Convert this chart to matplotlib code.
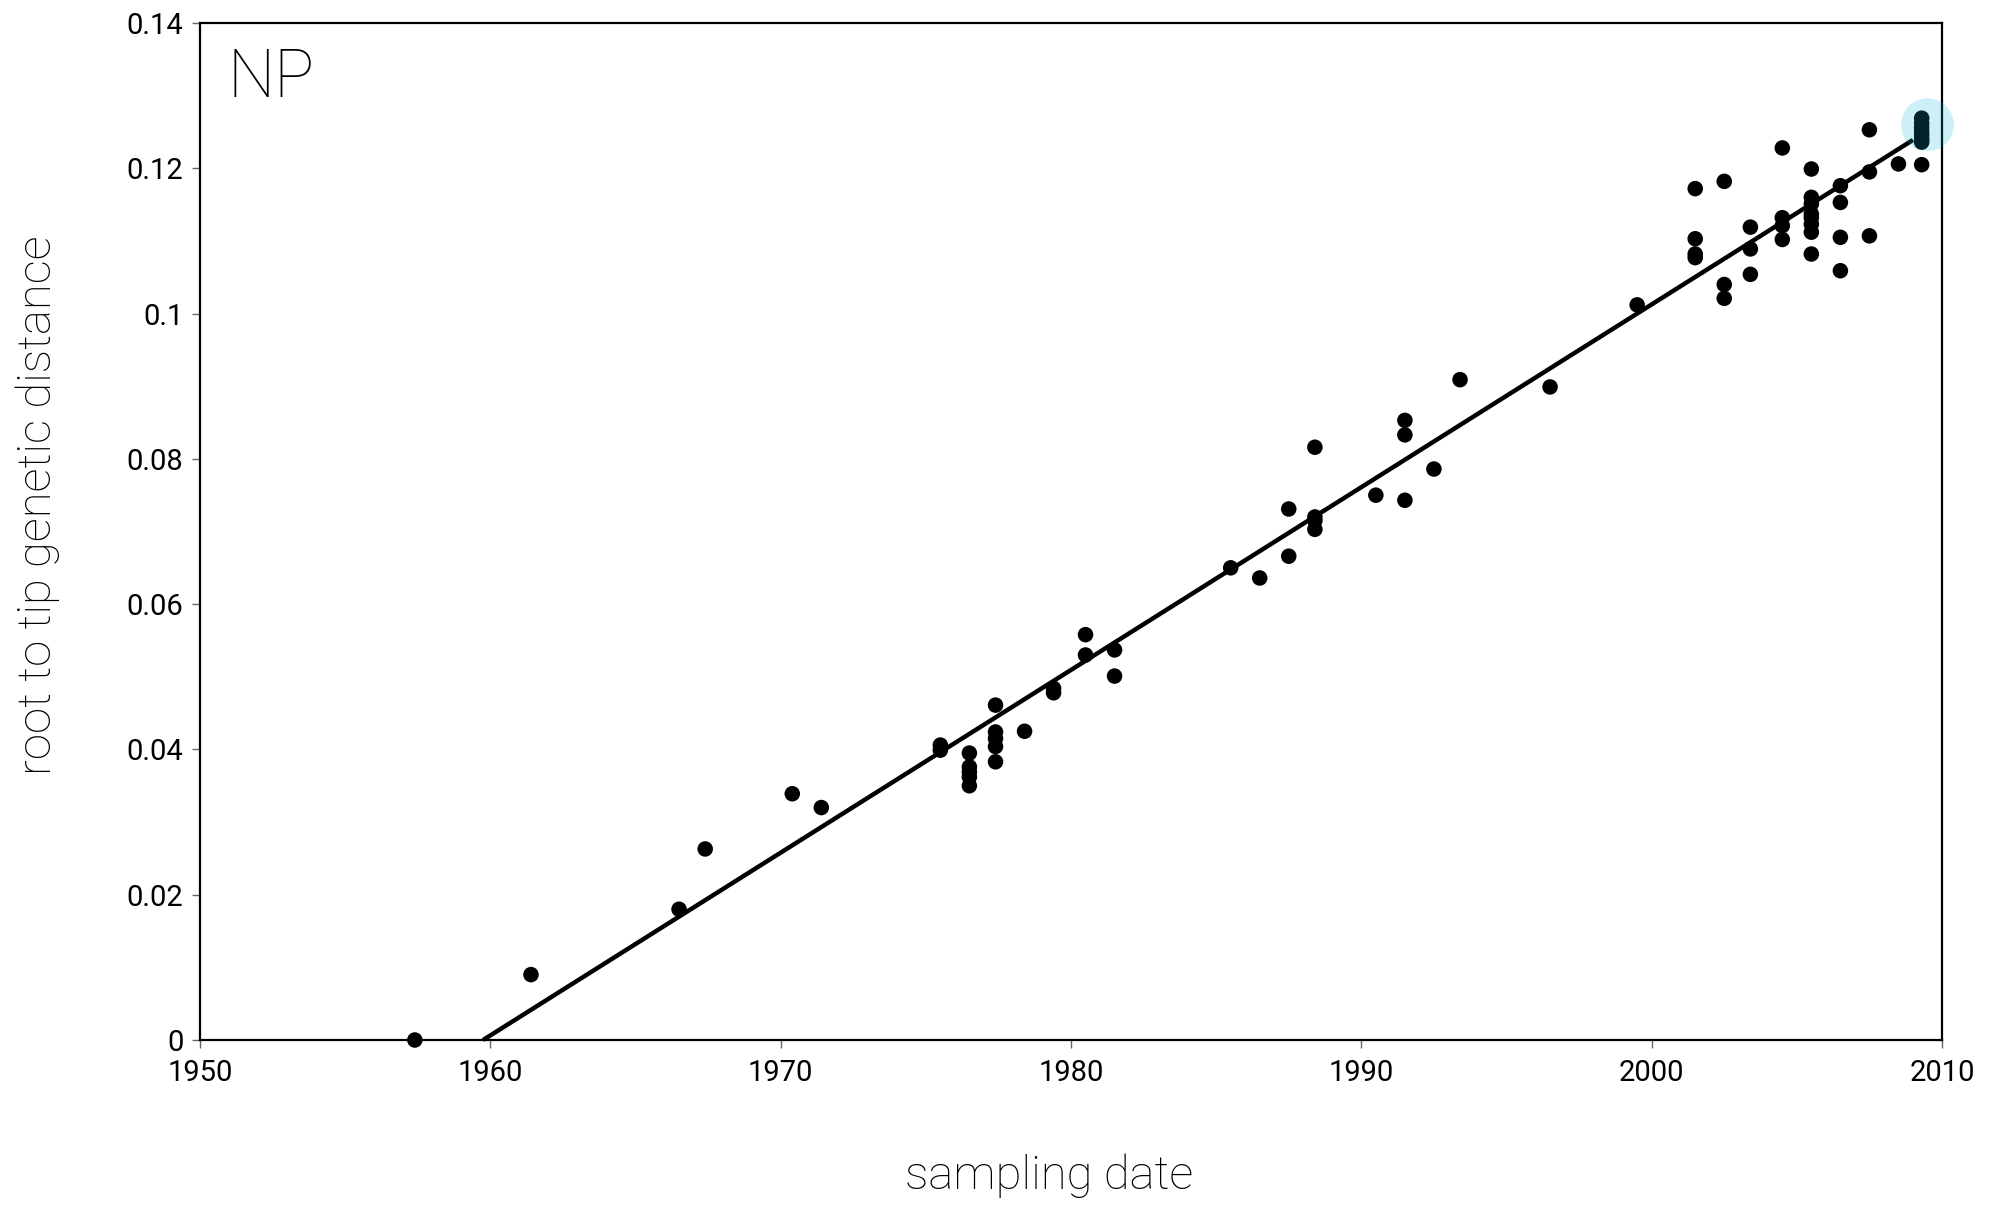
import matplotlib
matplotlib.use("Agg")
import matplotlib.pyplot as plt
import numpy as np

plt.rcParams['font.family'] = ['Roboto', 'Liberation Sans', 'DejaVu Sans']

# sampling year / root-to-tip distance
years = [1957.4, 1961.4, 1966.5, 1967.4, 1970.4, 1971.4,
         1975.5, 1975.5,
         1976.5, 1976.5, 1976.5, 1976.5, 1976.5,
         1977.4, 1977.4, 1977.4, 1977.4, 1977.4,
         1978.4, 1979.4, 1979.4, 1980.5, 1980.5, 1981.5, 1981.5,
         1985.5, 1986.5, 1987.5, 1987.5,
         1988.4, 1988.4, 1988.4, 1988.4,
         1990.5, 1991.5, 1991.5, 1991.5, 1992.5, 1993.4, 1996.5, 1999.5,
         2001.5, 2001.5, 2001.5, 2001.5,
         2002.5, 2002.5, 2002.5,
         2003.4, 2003.4, 2003.4,
         2004.5, 2004.5, 2004.5, 2004.5,
         2005.5, 2005.5, 2005.5, 2005.5, 2005.5, 2005.5, 2005.5, 2005.5,
         2006.5, 2006.5, 2006.5, 2006.5,
         2007.5, 2007.5, 2007.5,
         2008.5, 2009.3,
         2009.3, 2009.3, 2009.3, 2009.3, 2009.3, 2009.3, 2009.3]
dist = [0.0, 0.0090, 0.0180, 0.0263, 0.0339, 0.0320,
        0.0406, 0.0399,
        0.0395, 0.0376, 0.0369, 0.0362, 0.0350,
        0.0461, 0.0424, 0.0415, 0.0404, 0.0383,
        0.0425, 0.0484, 0.0478, 0.0558, 0.0530, 0.0537, 0.0501,
        0.0650, 0.0636, 0.0731, 0.0666,
        0.0816, 0.0720, 0.0715, 0.0703,
        0.0750, 0.0853, 0.0833, 0.0743, 0.0786, 0.0909, 0.0899, 0.1012,
        0.1172, 0.1103, 0.1082, 0.1077,
        0.1182, 0.1040, 0.1021,
        0.1119, 0.1089, 0.1054,
        0.1228, 0.1132, 0.1121, 0.1102,
        0.1199, 0.1160, 0.1151, 0.1137, 0.1132, 0.1123, 0.1112, 0.1082,
        0.1176, 0.1153, 0.1105, 0.1059,
        0.1253, 0.1195, 0.1107,
        0.1206, 0.1205,
        0.1269, 0.1262, 0.1256, 0.1250, 0.1245, 0.1240, 0.1236]

# regression line end points
line_x = [1959.75, 2009.0]
line_y = [0.0, 0.1239]

# highlight
hl_x = [2009.5]
hl_y = [0.1260]

xticks = [1950, 1960, 1970, 1980, 1990, 2000, 2010]
xticklabels = ['1950', '1960', '1970', '1980', '1990', '2000', '2010']
yticks = [0, 0.02, 0.04, 0.06, 0.08, 0.1, 0.12, 0.14]
yticklabels = ['0', '0.02', '0.04', '0.06', '0.08', '0.1', '0.12', '0.14']

W, H = 2013, 1207
fig = plt.figure(figsize=(W / 100, H / 100), dpi=100)
ax = fig.add_axes([200 / W, 1 - 1040 / H, 1742 / W, 1017 / H])

ax.plot(line_x, line_y, color='black', lw=3.2, solid_capstyle='butt', zorder=2, clip_on=False)
ax.scatter(years, dist, s=125, color='black', edgecolors='none', zorder=3, clip_on=False)
ax.scatter(hl_x, hl_y, s=1450, color=(0.02, 0.70, 0.88), alpha=0.2, edgecolors='none', zorder=4, clip_on=False)

ax.set_xlim(1950, 2010)
ax.set_ylim(0, 0.14)
ax.set_xticks(xticks)
ax.set_xticklabels(xticklabels)
ax.set_yticks(yticks)
ax.set_yticklabels(yticklabels)

for s in ax.spines.values():
    s.set_linewidth(1.6)
    s.set_color('black')
ax.tick_params(axis='both', direction='out', length=6, width=1, color='#666666',
               labelsize=21, labelcolor='black')
ax.tick_params(axis='x', pad=8)
ax.tick_params(axis='y', pad=6)

ax.text(0.0155, 0.927, 'NP', transform=ax.transAxes, fontsize=48, fontweight='light',
        ha='left', va='baseline', color='black')

fig.text(1049 / W, 1 - 1176 / H, 'sampling date', fontsize=34, fontweight='light',
         ha='center', va='center', color='black')
fig.text(38 / W, 1 - 505 / H, 'root to tip genetic distance', fontsize=34, fontweight='light',
         rotation=90, ha='center', va='center', color='black')

fig.savefig('out.png', dpi=100)
